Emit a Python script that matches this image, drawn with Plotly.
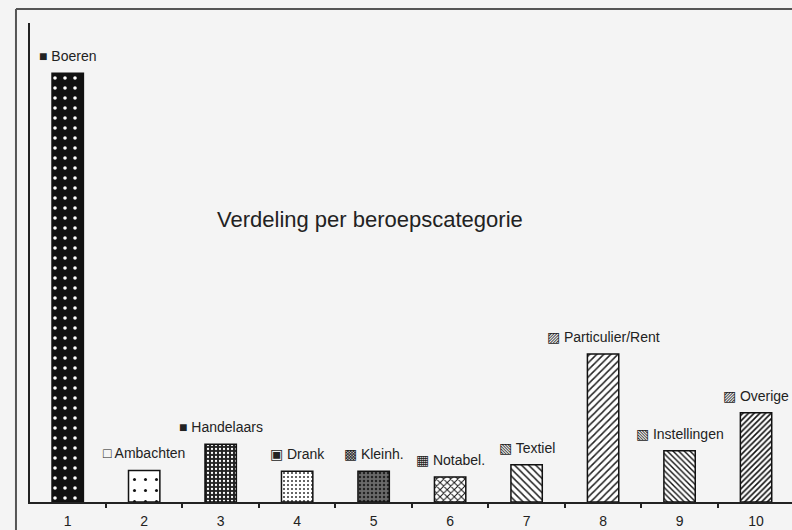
import plotly.graph_objects as go

categories = [1, 2, 3, 4, 5, 6, 7, 8, 9, 10]
tick_labels = ["1", "2", "3", "4", "5", "6", "7", "8", "9", "10"]
labels = ["Boeren", "Ambachten", "Handelaars", "Drank", "Kleinh.", "Notabel.",
          "Textiel", "Particulier/Rent", "Instellingen", "Overige"]
values = [46.1, 3.4, 6.2, 3.3, 3.3, 2.7, 4.0, 15.9, 5.5, 9.6]
glyphs = ["■", "□", "■", "▣", "▩", "▦", "▧", "▨", "▧", "▨"]

shapes_p = [".", ".", ".", ".", ".", "x", "\\", "/", "\\", "/"]
fgcols = ["#ffffff", "#111111", "#ffffff", "#333333", "#222222", "#111111", "#222222", "#222222", "#111111", "#111111"]
bgcols = ["#111111", "#ffffff", "#222222", "#ffffff", "#6a6a6a", "#ffffff", "#ffffff", "#ffffff", "#ffffff", "#ffffff"]
psizes = [10, 11, 4, 4, 4, 5, 5, 5, 4, 4]
psolid = [0.1, 0.06, 0.25, 0.2, 0.3, 0.35, 0.3, 0.3, 0.35, 0.4]

FONT = "Liberation Sans, Arial, sans-serif"
fig = go.Figure()
for i, c in enumerate(categories):
    fig.add_trace(go.Bar(
        x=[c], y=[values[i]], width=0.41,
        marker=dict(
            color=bgcols[i],
            line=dict(color="#111111", width=1.5),
            pattern=dict(shape=shapes_p[i], fgcolor=fgcols[i], fgopacity=1,
                         size=psizes[i], solidity=psolid[i], fillmode="overlay"),
        ),
        showlegend=False, hoverinfo="skip",
    ))

for c, v, lab, g in zip(categories, values, labels, glyphs):
    fig.add_annotation(x=c, y=v, text=g + " " + lab, showarrow=False,
                       yanchor="middle", xanchor="center", yshift=17,
                       font=dict(family=FONT, size=14, color="#222222"))

fig.add_annotation(xref="paper", yref="paper", x=0.446, y=0.589,
                   text="Verdeling per beroepscategorie", showarrow=False,
                   font=dict(family=FONT, size=22, color="#222222"))

# outer frame of the scanned chart
fig.add_shape(type="line", xref="paper", yref="paper", x0=-0.0184, x1=1.01,
              y0=1.029, y1=1.029, line=dict(color="#555555", width=2))
fig.add_shape(type="line", xref="paper", yref="paper", x0=-0.0184, x1=-0.0184,
              y0=1.029, y1=-0.06, line=dict(color="#555555", width=2))

fig.update_layout(
    width=792, height=530,
    margin=dict(l=30, r=0, t=23, b=28, autoexpand=False),
    paper_bgcolor="#f4f4f4", plot_bgcolor="#f4f4f4",
    barmode="overlay",
    xaxis=dict(range=[0.507, 10.47], tickmode="array", tickvals=categories,
               ticktext=tick_labels, showgrid=False, zeroline=False,
               showline=True, linecolor="#222222", linewidth=1.5, automargin=False,
               ticks="", ticklabelstandoff=5,
               tickfont=dict(family=FONT, size=14, color="#222222"),
               minor=dict(tickvals=[k + 0.5 for k in categories[:-1]], ticks="outside",
                          ticklen=4, tickcolor="#222222", tickwidth=1.5)),
    yaxis=dict(range=[0, 51.5], showgrid=False, zeroline=False, showline=True,
               linecolor="#222222", linewidth=1.5, showticklabels=False, ticks="",
               automargin=False),
)

fig.write_html("out.html", config={"displayModeBar": False},
               post_script="document.body.style.margin='0';")
